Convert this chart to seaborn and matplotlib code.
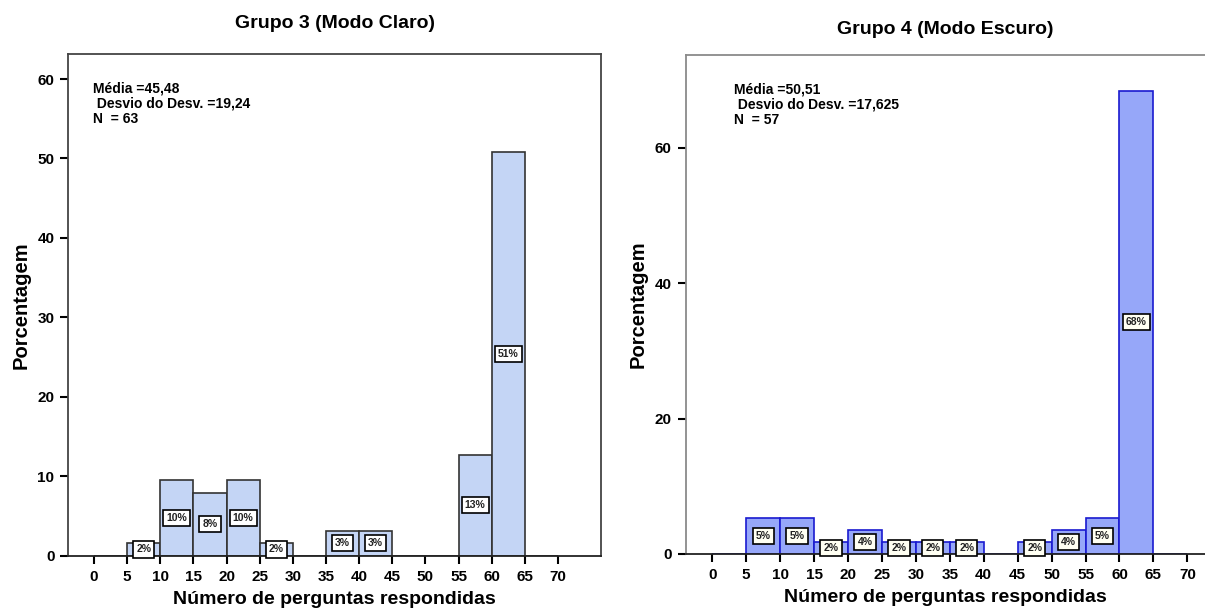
import numpy as np
import pandas as pd
import seaborn as sns
import matplotlib
matplotlib.use("Agg")
import matplotlib.pyplot as plt

# ---- data ----
bin_edges = [0, 5, 10, 15, 20, 25, 30, 35, 40, 45, 50, 55, 60, 65, 70]
bin_centers = [2.5, 7.5, 12.5, 17.5, 22.5, 27.5, 32.5, 37.5, 42.5, 47.5, 52.5, 57.5, 62.5, 67.5]
pct_g3 = [0, 1.59, 9.52, 7.94, 9.52, 1.59, 0, 3.17, 3.17, 0, 0, 12.70, 50.79, 0]
pct_g4 = [0, 5.26, 5.26, 1.75, 3.51, 1.75, 1.75, 1.75, 0, 1.75, 3.51, 5.26, 68.42, 0]
x_ticks = [0, 5, 10, 15, 20, 25, 30, 35, 40, 45, 50, 55, 60, 65, 70]
y_ticks_g3 = [0, 10, 20, 30, 40, 50, 60]
y_ticks_g4 = [0, 20, 40, 60]
title_g3 = "Grupo 3 (Modo Claro)"
title_g4 = "Grupo 4 (Modo Escuro)"
stats_g3 = ["Média =45,48", " Desvio do Desv. =19,24", "N  = 63"]
stats_g4 = ["Média =50,51", " Desvio do Desv. =17,625", "N  = 57"]
xlabel = "Número de perguntas respondidas"
ylabel = "Porcentagem"

sns.set_theme(style="white")
plt.rcParams['font.family'] = ['Liberation Sans', 'DejaVu Sans']
plt.rcParams['font.weight'] = 'bold'
plt.rcParams['text.color'] = 'black'
plt.rcParams['axes.labelcolor'] = 'black'

fig = plt.figure(figsize=(12.05, 6.12), dpi=100)
ax1 = fig.add_axes([0.0567, 0.0920, 0.4421, 0.8198])
ax2 = fig.add_axes([0.5690, 0.0948, 0.4310, 0.8153])

def draw(ax, pcts, fill, edge, spine_col, yticks, ylim, xlim, title, stats, box_fc,
         title_y, stats_x):
    df = pd.DataFrame({"x": bin_centers, "w": pcts})
    sns.histplot(data=df, x="x", weights="w", bins=bin_edges, ax=ax,
                 color=fill, edgecolor=edge, linewidth=1.2, alpha=1.0, stat="count")
    for c, p in zip(bin_centers, pcts):
        if p > 0:
            ax.text(c, p / 2, f"{round(p)}%", ha="center", va="center",
                    fontsize=7.5, fontweight="bold", color="#222222",
                    bbox=dict(boxstyle="square,pad=0.3", fc=box_fc, ec="black", lw=1.2),
                    zorder=5)
    ax.set_xlim(*xlim)
    ax.set_ylim(*ylim)
    ax.set_xticks(x_ticks)
    ax.set_xticklabels([str(t) for t in x_ticks], fontsize=11, fontweight="bold")
    ax.set_yticks(yticks)
    ax.set_yticklabels([str(t) for t in yticks], fontsize=11, fontweight="bold")
    ax.tick_params(axis="both", which="both", direction="out", length=6, width=1.5,
                   colors="black", bottom=True, left=True, pad=4)
    ax.set_xlabel(xlabel, fontsize=14, fontweight="bold", labelpad=5)
    ax.set_ylabel(ylabel, fontsize=14.5, fontweight="bold", labelpad=5)
    ax.set_title(title, fontsize=14, fontweight="bold", y=title_y)
    for s in ax.spines.values():
        s.set_color(spine_col)
        s.set_linewidth(1.3)
    ax.spines["bottom"].set_color("#222222")
    ax.text(stats_x, 0.945, "\n".join(stats), transform=ax.transAxes, ha="left", va="top",
            fontsize=10, fontweight="bold", linespacing=1.1, color="black")

draw(ax1, pct_g3, "#c4d5f5", "#333333", "#444444", y_ticks_g3, (0, 63.15), (-3.88, 76.5),
     title_g3, stats_g3, "white", 1.035, 0.047)
draw(ax2, pct_g4, "#96a7f9", "#1a1ad0", "#8a8a8a", y_ticks_g4, (0, 73.7), (-3.92, 72.6),
     title_g4, stats_g4, "#fffff2", 1.025, 0.094)
ax2.spines["right"].set_visible(False)

fig.savefig("out.png", dpi=100)
